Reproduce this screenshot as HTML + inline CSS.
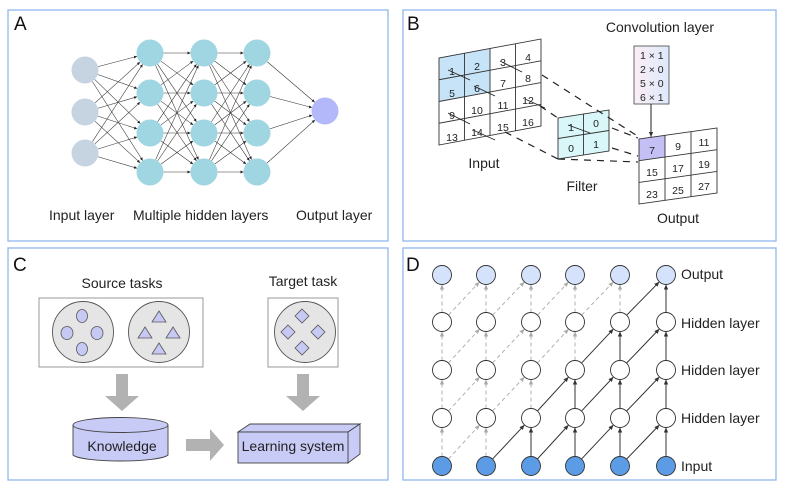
<!DOCTYPE html>
<html><head><meta charset="utf-8"><style>
html,body{margin:0;padding:0;background:#fff;}
svg{display:block;font-family:"Liberation Sans",Arial,sans-serif;}
</style></head><body>
<svg width="786" height="492" viewBox="0 0 786 492" xmlns="http://www.w3.org/2000/svg">
<defs>
<marker id="ah" markerWidth="6" markerHeight="6" refX="5" refY="3" orient="auto" markerUnits="userSpaceOnUse"><path d="M0,0.8 L5,3 L0,5.2z" fill="#333"/></marker>
<marker id="ahg" markerWidth="6" markerHeight="6" refX="5" refY="3" orient="auto" markerUnits="userSpaceOnUse"><path d="M0,0.8 L5,3 L0,5.2z" fill="#aaa"/></marker>
<marker id="as" markerWidth="4" markerHeight="4" refX="3" refY="2" orient="auto" markerUnits="userSpaceOnUse"><path d="M0,0.5 L3,2 L0,3.5z" fill="#222"/></marker>
<linearGradient id="cg" x1="0" x2="1"><stop offset="0" stop-color="#fbeef6"/><stop offset="1" stop-color="#dde9fa"/></linearGradient>
</defs>
<g fill="none" stroke="#8fb8ef" stroke-width="1.3">
<rect x="8" y="10" width="380" height="231"/>
<rect x="403" y="10" width="373" height="231"/>
<rect x="8" y="248" width="380" height="232"/>
<rect x="403" y="248" width="373" height="232"/>
</g>
<g font-size="19" fill="#111"><text x="14" y="30">A</text><text x="407" y="30">B</text><text x="13" y="271">C</text><text x="406" y="271">D</text></g>

<!-- Panel A -->
<g id="A" stroke="#333" stroke-width="0.55" marker-end="url(#as)">
</g>
<g id="An"></g>
<g font-size="14" fill="#222"><text x="49" y="220">Input layer</text><text x="133" y="220">Multiple hidden layers</text><text x="296" y="220">Output layer</text></g>

<!-- Panel B -->
<g stroke="#333" stroke-width="0.9">
<g transform="matrix(1,-0.186,0,1,439,58)">
<rect x="0" y="0" width="51" height="43.5" fill="#c6e3f7" stroke="none"/>
<g fill="none"><rect x="0" y="0" width="102" height="87"/>
<line x1="25.5" y1="0" x2="25.5" y2="87"/><line x1="51" y1="0" x2="51" y2="87"/><line x1="76.5" y1="0" x2="76.5" y2="87"/>
<line x1="0" y1="21.75" x2="102" y2="21.75"/><line x1="0" y1="43.5" x2="102" y2="43.5"/><line x1="0" y1="65.25" x2="102" y2="65.25"/></g>
</g>
<g transform="matrix(1,-0.157,0,1,558,118)">
<rect x="0" y="0" width="51" height="41" fill="#d9f6f9"/>
<line x1="25.5" y1="0" x2="25.5" y2="41"/><line x1="0" y1="20.5" x2="51" y2="20.5"/>
</g>
<g transform="matrix(1,-0.141,0,1,639,139)">
<rect x="0" y="0" width="26" height="21.7" fill="#c4c0f5" stroke="none"/>
<g fill="none"><rect x="0" y="0" width="78" height="65"/>
<line x1="26" y1="0" x2="26" y2="65"/><line x1="52" y1="0" x2="52" y2="65"/>
<line x1="0" y1="21.7" x2="78" y2="21.7"/><line x1="0" y1="43.4" x2="78" y2="43.4"/></g>
</g>
</g>
<g font-size="10.5" fill="#222" text-anchor="middle">
<text x="452" y="75">1</text><text x="477" y="70">2</text><text x="503" y="66">3</text><text x="528" y="61">4</text>
<text x="452" y="97">5</text><text x="477" y="92">6</text><text x="503" y="87">7</text><text x="528" y="82">8</text>
<text x="452" y="119">9</text><text x="477" y="114">10</text><text x="503" y="109">11</text><text x="528" y="104">12</text>
<text x="452" y="141">13</text><text x="477" y="136">14</text><text x="503" y="131">15</text><text x="528" y="126">16</text>
<text x="571" y="131">1</text><text x="596" y="127">0</text><text x="571" y="152">0</text><text x="596" y="148">1</text>
<text x="652" y="154">7</text><text x="678" y="150">9</text><text x="704" y="146">11</text>
<text x="652" y="176">15</text><text x="678" y="172">17</text><text x="704" y="168">19</text>
<text x="652" y="198">23</text><text x="678" y="194">25</text><text x="704" y="190">27</text>
</g>
<g stroke="#222" stroke-width="1.2" stroke-dasharray="7,6" fill="none">
<line x1="542" y1="75" x2="639" y2="137"/>
<line x1="540" y1="106" x2="558" y2="118"/>
<line x1="505" y1="132" x2="558" y2="159"/>
<line x1="558" y1="159" x2="638" y2="162"/>
<line x1="612" y1="128" x2="638" y2="138"/>
<line x1="612" y1="148" x2="638" y2="156"/>
</g>
<g stroke="#222" stroke-width="0.8">
<line x1="448" y1="70" x2="470" y2="80"/><line x1="474" y1="86" x2="495" y2="96"/><line x1="500" y1="61" x2="522" y2="72"/>
<line x1="448" y1="113" x2="470" y2="124"/><line x1="473" y1="130" x2="495" y2="140"/><line x1="525" y1="99" x2="545" y2="108"/>
<line x1="568" y1="125" x2="590" y2="133"/>
</g>
<rect x="634" y="46" width="35" height="58" fill="url(#cg)" stroke="#444" stroke-width="0.8"/>
<g font-size="10.5" fill="#222"><text x="640" y="59">1 × 1</text><text x="640" y="73">2 × 0</text><text x="640" y="87">5 × 0</text><text x="640" y="101">6 × 1</text></g>
<line x1="651" y1="104" x2="651" y2="137" stroke="#222" stroke-width="1" marker-end="url(#ah)"/>
<g font-size="14" fill="#222" text-anchor="middle"><text x="660" y="32">Convolution layer</text><text x="484" y="168">Input</text><text x="582" y="191">Filter</text><text x="678" y="223">Output</text></g>

<!-- Panel C -->
<g font-size="14" fill="#222" text-anchor="middle"><text x="122" y="288">Source tasks</text><text x="303" y="286">Target task</text></g>
<g stroke="#999" stroke-width="1" fill="none"><rect x="39" y="298" width="164" height="69"/><rect x="268" y="298" width="70" height="69"/></g>
<g fill="#e5e5e5" stroke="#555" stroke-width="0.9"><circle cx="83" cy="332" r="30.5"/><circle cx="159" cy="332" r="30.5"/><circle cx="305" cy="332" r="30.5"/></g>
<g fill="#c7c9f5" stroke="#555" stroke-width="0.8">
<ellipse cx="82" cy="316" rx="5.5" ry="6.5"/><ellipse cx="82" cy="349" rx="5.5" ry="6.5"/><ellipse cx="67" cy="333" rx="6" ry="6.5"/><ellipse cx="97" cy="333" rx="6" ry="6.5"/>
<path d="M159,311 L166,322 L152,322z"/><path d="M159,343 L166,354 L152,354z"/><path d="M145,327 L152,338 L138,338z"/><path d="M173,327 L180,338 L166,338z"/>
<path d="M302,309 L309,316 L302,323 L295,316z"/><path d="M302,341 L309,348 L302,355 L295,348z"/><path d="M288,325 L295,332 L288,339 L281,332z"/><path d="M318,325 L325,332 L318,339 L311,332z"/>
</g>
<g fill="#b2b2b2">
<path d="M116,374 h12 v22 h11 l-17,15 l-17,-15 h11z"/>
<path d="M297,374 h12 v22 h11 l-17,15 l-17,-15 h11z"/>
<path d="M186,439 h24 v-10 l14,16 l-14,16 v-10 h-24z"/>
</g>
<g stroke="#444" stroke-width="0.9" fill="#c8cbf6">
<path d="M73,425 v30 a48,7 0 0 0 95,0 v-30"/>
<ellipse cx="120.5" cy="425" rx="47.5" ry="7.5"/>
<path d="M238,432 l12,-8 h110 l-12,8z"/>
<path d="M348,432 l12,-8 v30 l-12,9z"/>
<rect x="238" y="432" width="110" height="31"/>
</g>
<g font-size="14" fill="#222" text-anchor="middle"><text x="122" y="451">Knowledge</text><text x="293" y="451">Learning system</text></g>

<!-- Panel D -->
<g id="D"></g>
<g font-size="14" fill="#222"><text x="681" y="279">Output</text><text x="681" y="328">Hidden layer</text><text x="681" y="375">Hidden layer</text><text x="681" y="423">Hidden layer</text><text x="681" y="471">Input</text></g>
</svg>
<script>
(function(){
var NS="http://www.w3.org/2000/svg";
function el(p,t,a){var e=document.createElementNS(NS,t);for(var k in a)e.setAttribute(k,a[k]);p.appendChild(e);return e;}
// Panel A
var A=document.getElementById("A"),An=document.getElementById("An"),r=13.5;
var cols=[[85,[70,112,153]],[150,[53,93,133,172]],[204,[53,93,133,172]],[257,[53,93,133,172]],[325,[111]]];
for(var c=0;c<4;c++){var a=cols[c],b=cols[c+1];a[1].forEach(function(y1){b[1].forEach(function(y2){
var dx=b[0]-a[0],dy=y2-y1,L=Math.sqrt(dx*dx+dy*dy);
el(A,"line",{x1:a[0]+dx/L*r,y1:y1+dy/L*r,x2:b[0]-dx/L*r,y2:y2-dy/L*r});});});}
var fills=["#c5d4e0","#9fd6e2","#9fd6e2","#9fd6e2","#b3b8fa"];
cols.forEach(function(c,i){c[1].forEach(function(y){el(An,"circle",{cx:c[0],cy:y,r:r,fill:fills[i]});});});
// Panel D
var D=document.getElementById("D"),xs=[442,486,531,575,620,666],ys=[466,418,370,322,275],R=9.5;
function edge(x1,y1,x2,y2,solid){var dx=x2-x1,dy=y2-y1,L=Math.sqrt(dx*dx+dy*dy);
el(D,"line",{x1:x1+dx/L*R,y1:y1+dy/L*R,x2:x2-dx/L*R,y2:y2-dy/L*R,stroke:solid?"#333":"#aaa","stroke-width":solid?1:0.9,"stroke-dasharray":solid?"none":"4,3","marker-end":solid?"url(#ah)":"url(#ahg)"});}
for(var l=1;l<5;l++)for(var i=0;i<6;i++){var solid=i>=l+1;edge(xs[i],ys[l-1],xs[i],ys[l],solid);
if(i>0)edge(xs[i-1],ys[l-1],xs[i],ys[l],solid);}
for(var l=0;l<5;l++)for(var i=0;i<6;i++)el(D,"circle",{cx:xs[i],cy:ys[l],r:R,fill:l==0?"#5c9ce6":(l==4?"#d4e3fb":"#fff"),stroke:"#333","stroke-width":0.9});
})();
</script>
</body></html>
